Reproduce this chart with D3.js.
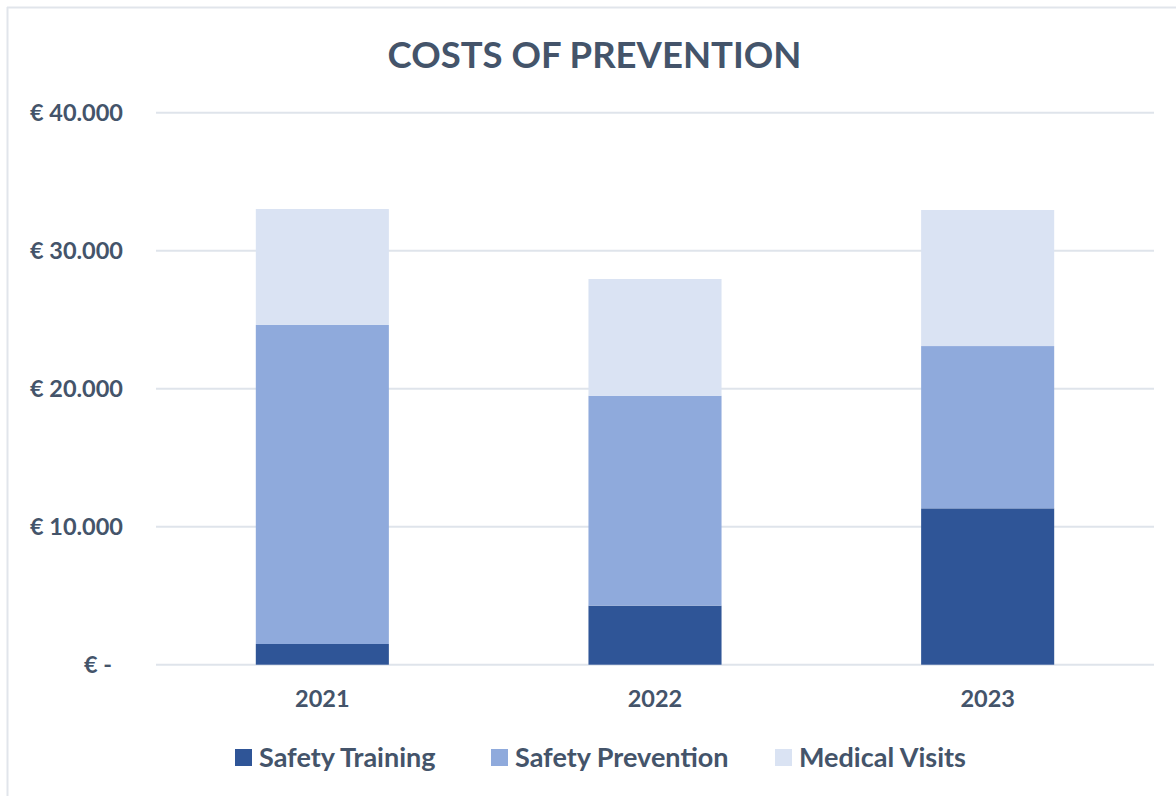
<!DOCTYPE html>
<html>
<head>
<meta charset="utf-8">
<script src="https://cdn.jsdelivr.net/npm/d3@7"></script>
<style>
  html, body { margin: 0; padding: 0; background: #ffffff; }
  svg { display: block; }
  text { font-family: Lato, "Open Sans", "DejaVu Sans", sans-serif; font-weight: 700; fill: #44546A; }
</style>
</head>
<body>
<svg id="chart" width="1176" height="796"></svg>
<script>
const title = "COSTS OF PREVENTION";
const categories = ["2021", "2022", "2023"];
const seriesNames = ["Safety Training", "Safety Prevention", "Medical Visits"];
const safetyTraining = [1500, 4280, 11330];
const safetyPrevention = [23120, 15210, 11760];
const medicalVisits = [8400, 8460, 9860];
const yTicks = [0, 10000, 20000, 30000, 40000];
const yTickLabels = ["€ -", "€ 10.000", "€ 20.000", "€ 30.000", "€ 40.000"];
const colors = ["#2F5597", "#8FAADC", "#DAE3F3"];

const svg = d3.select("#chart");

// chart frame (top and left edges visible)
svg.append("line").attr("x1", 7).attr("x2", 1176).attr("y1", 7.5).attr("y2", 7.5)
  .attr("stroke", "#E1E5EB").attr("stroke-width", 2);
svg.append("line").attr("x1", 7.5).attr("x2", 7.5).attr("y1", 7).attr("y2", 796)
  .attr("stroke", "#E1E5EB").attr("stroke-width", 2);

const x = d3.scaleBand().domain(categories).range([156, 1154]).paddingInner(0.6).paddingOuter(0.3);
const y = d3.scaleLinear().domain([0, 40000]).range([664.7, 112.7]);

// gridlines
svg.append("g").selectAll("line").data(yTicks).join("line")
  .attr("x1", 156).attr("x2", 1154)
  .attr("y1", d => y(d)).attr("y2", d => y(d))
  .attr("stroke", "#DFE4EB").attr("stroke-width", 2);

// y labels
svg.append("g").selectAll("text").data(yTicks).join("text")
  .attr("x", 123)
  .attr("dx", (d, i) => d === 0 ? -11 : 0)
  .attr("y", d => y(d))
  .attr("dy", "0.35em")
  .attr("text-anchor", "end")
  .style("font-size", "23.5px")
  .text((d, i) => yTickLabels[i]);

// stacked data
const rows = categories.map((c, i) => ({
  cat: c,
  "Safety Training": safetyTraining[i],
  "Safety Prevention": safetyPrevention[i],
  "Medical Visits": medicalVisits[i]
}));
const stacked = d3.stack().keys(seriesNames)(rows);

svg.append("g").selectAll("g").data(stacked).join("g")
  .attr("fill", (d, i) => colors[i])
  .selectAll("rect").data(d => d).join("rect")
  .attr("x", d => x(d.data.cat))
  .attr("width", x.bandwidth())
  .attr("y", d => y(d[1]))
  .attr("height", d => y(d[0]) - y(d[1]));

// x labels
const xAxis = svg.append("g").attr("transform", "translate(0,665)")
  .call(d3.axisBottom(x).tickSize(0).tickPadding(0));
xAxis.select(".domain").remove();
xAxis.selectAll("text")
  .attr("y", 34)
  .attr("dy", "0.35em")
  .style("font-size", "23.5px")
  .style("fill", "#44546A")
  .style("font-family", "Lato, 'Open Sans', sans-serif")
  .style("font-weight", 700);

// title
svg.append("text")
  .attr("x", 594.5).attr("y", 68)
  .attr("text-anchor", "middle")
  .style("font-size", "36.5px")
  .text(title);

// legend
const legendX = [235, 491, 775];
const lg = svg.append("g").selectAll("g").data(seriesNames).join("g")
  .attr("transform", (d, i) => `translate(${legendX[i]},749)`);
lg.append("rect").attr("width", 17).attr("height", 17).attr("fill", (d, i) => colors[i]);
lg.append("text").attr("x", 24).attr("y", 8.5).attr("dy", "0.35em")
  .style("font-size", "27px")
  .text(d => d);
</script>
</body>
</html>
